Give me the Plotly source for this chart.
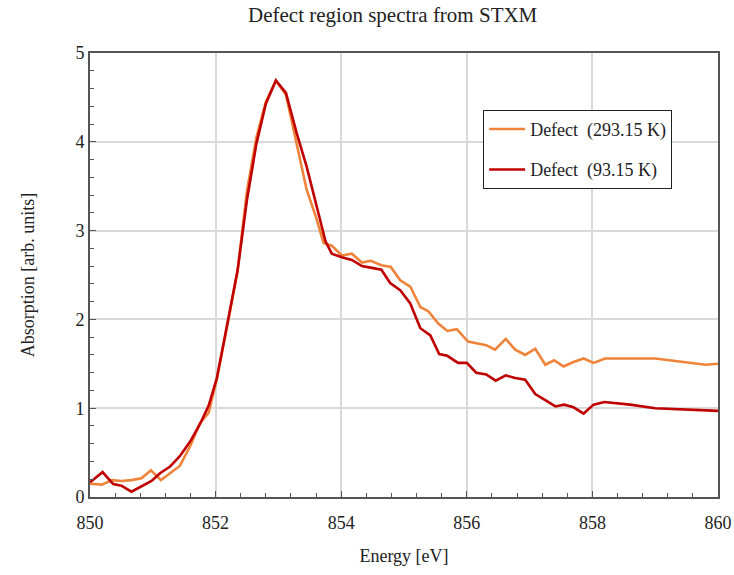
import plotly.graph_objects as go

energy_293 = [850.0, 850.19, 850.35, 850.5, 850.66, 850.82, 850.97, 851.13, 851.28, 851.43, 851.6, 851.75,
              851.89, 852.02, 852.2, 852.35, 852.5, 852.65, 852.8, 852.96, 853.12, 853.28, 853.45, 853.6,
              853.72, 853.85, 854.01, 854.17, 854.33, 854.47, 854.64, 854.79, 854.94, 855.1, 855.26, 855.39,
              855.55, 855.69, 855.84, 856.02, 856.15, 856.31, 856.45, 856.62, 856.77, 856.93, 857.09, 857.25,
              857.39, 857.54, 857.7, 857.86, 858.02, 858.2, 859.0, 859.8, 860.0]
abs_293 = [0.15, 0.14, 0.19, 0.18, 0.19, 0.21, 0.30, 0.19, 0.27, 0.35, 0.58, 0.83,
           0.95, 1.33, 1.98, 2.55, 3.45, 4.05, 4.45, 4.69, 4.53, 4.00, 3.46, 3.15,
           2.86, 2.83, 2.72, 2.74, 2.64, 2.66, 2.61, 2.59, 2.44, 2.37, 2.14, 2.09,
           1.95, 1.87, 1.89, 1.75, 1.73, 1.71, 1.66, 1.78, 1.66, 1.60, 1.67, 1.49,
           1.54, 1.47, 1.52, 1.56, 1.51, 1.56, 1.56, 1.49, 1.50]

energy_93 = [850.0, 850.2, 850.37, 850.5, 850.66, 850.82, 850.98, 851.12, 851.27, 851.43, 851.6, 851.75,
             851.89, 852.02, 852.2, 852.35, 852.5, 852.65, 852.8, 852.96, 853.12, 853.29, 853.45, 853.6,
             853.75, 853.85, 854.01, 854.17, 854.33, 854.49, 854.64, 854.78, 854.94, 855.1, 855.26, 855.42,
             855.56, 855.69, 855.86, 856.0, 856.15, 856.31, 856.46, 856.62, 856.77, 856.93, 857.09, 857.25,
             857.41, 857.55, 857.7, 857.86, 858.02, 858.19, 858.6, 859.0, 860.0]
abs_93 = [0.165, 0.28, 0.146, 0.127, 0.06, 0.116, 0.18, 0.27, 0.34, 0.46, 0.63, 0.82,
          1.03, 1.34, 2.0, 2.55, 3.35, 3.98, 4.43, 4.69, 4.55, 4.10, 3.72, 3.30,
          2.88, 2.74, 2.70, 2.67, 2.60, 2.58, 2.56, 2.41, 2.33, 2.18, 1.90, 1.82,
          1.61, 1.59, 1.51, 1.51, 1.40, 1.38, 1.31, 1.37, 1.34, 1.32, 1.16, 1.09,
          1.02, 1.04, 1.01, 0.94, 1.04, 1.07, 1.04, 1.00, 0.97]

x_tick_vals = [850, 852, 854, 856, 858, 860]
x_tick_text = ["850", "852", "854", "856", "858", "860"]

FONT = "'Liberation Serif', 'DejaVu Serif', serif"

fig = go.Figure()
fig.add_trace(go.Scatter(x=energy_293, y=abs_293, mode="lines", name="Defect  (293.15 K)",
                         legendgroup="a", line=dict(color="#F0833A", width=2.6)))
fig.add_trace(go.Scatter(x=energy_93, y=abs_93, mode="lines", name="Defect  (93.15 K)",
                         legendgroup="b", line=dict(color="#C00000", width=2.6)))

fig.update_layout(
    width=734, height=575,
    margin=dict(l=90, r=16, t=53, b=78, autoexpand=False),
    paper_bgcolor="white", plot_bgcolor="white",
    font=dict(family=FONT, size=17, color="#222222"),
    title=dict(text="Defect region spectra from STXM", x=0.535, xanchor="center", y=0.988, yanchor="top",
               font=dict(family=FONT, size=21, color="#222222")),
    showlegend=True,
    legend=dict(x=0.626, y=0.872, xanchor="left", yanchor="top",
                bordercolor="#222222", borderwidth=1, bgcolor="white",
                font=dict(family=FONT, size=18), traceorder="grouped", tracegroupgap=14,
                itemwidth=36),
    xaxis=dict(range=[850, 860], tickmode="array", tickvals=x_tick_vals, ticktext=x_tick_text,
               showgrid=True, gridcolor="#D9D9D9", gridwidth=1.5, automargin=False,
               zeroline=False, showline=True, linecolor="#555555", linewidth=2, mirror=True,
               ticks="inside", ticklen=6, tickcolor="#555555", tickfont=dict(size=18),
               ticklabelstandoff=8,
               minor=dict(dtick=0.4, tick0=850, ticks="inside", ticklen=4, tickcolor="#555555", showgrid=False),
               title=dict(text="Energy [eV]", font=dict(family=FONT, size=18), standoff=18)),
    yaxis=dict(range=[0, 5], dtick=1, showgrid=True, gridcolor="#D9D9D9", gridwidth=1.5, automargin=False,
               zeroline=False, showline=True, linecolor="#555555", linewidth=2, mirror=True,
               ticks="inside", ticklen=6, tickcolor="#555555", tickfont=dict(size=18),
               minor=dict(dtick=0.2, ticks="inside", ticklen=4, tickcolor="#555555", showgrid=False),
               title=dict(text="Absorption [arb. units]", font=dict(family=FONT, size=18), standoff=36)),
)

fig.write_html("out.html")
